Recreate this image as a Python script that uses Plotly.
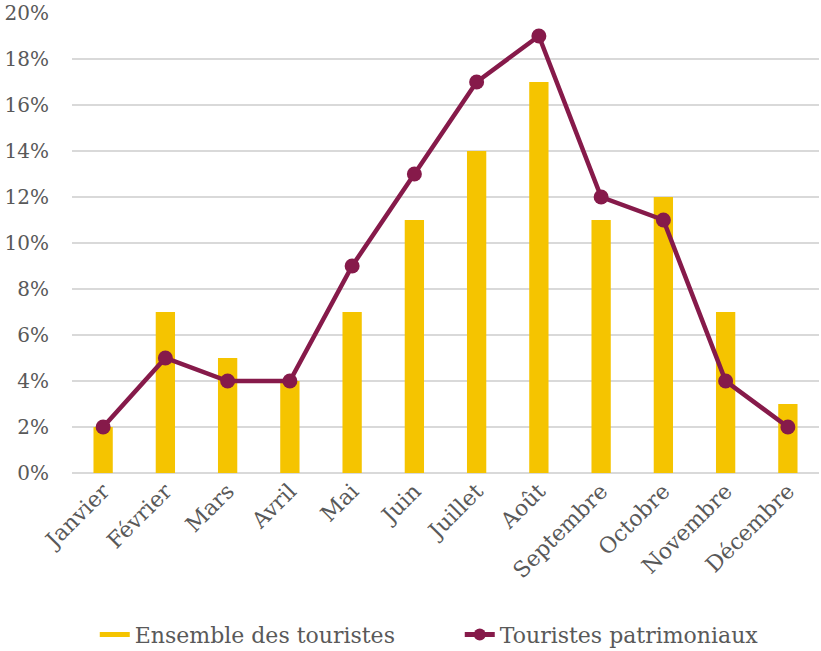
import plotly.graph_objects as go

months = ["Janvier", "Février", "Mars", "Avril", "Mai", "Juin", "Juillet",
          "Août", "Septembre", "Octobre", "Novembre", "Décembre"]
ensemble = [2, 7, 5, 4, 7, 11, 14, 17, 11, 12, 7, 3]
patrimoniaux = [2, 5, 4, 4, 9, 13, 17, 19, 12, 11, 4, 2]
y_ticks = [0, 2, 4, 6, 8, 10, 12, 14, 16, 18, 20]
y_labels = [f"{v}%" for v in y_ticks]

FONT = "DejaVu Serif"
TXT = "#595959"
YELLOW = "#F5C400"
PURPLE = "#861A4A"

fig = go.Figure()
fig.add_trace(go.Bar(x=months, y=ensemble, name="Ensemble des touristes",
                     marker=dict(color=YELLOW, line=dict(width=0)),
                     showlegend=False))
# legend entry drawn as a wide swatch
fig.add_trace(go.Scatter(x=[None], y=[None], name="Ensemble des touristes",
                         mode="lines", line=dict(color=YELLOW, width=15)))
fig.add_trace(go.Scatter(x=months, y=patrimoniaux, name="Touristes patrimoniaux",
                         mode="lines+markers",
                         line=dict(color=PURPLE, width=4.5),
                         marker=dict(color=PURPLE, size=15)))

fig.update_layout(
    width=821, height=651,
    margin=dict(l=72, r=2, t=13, b=178),
    plot_bgcolor="white", paper_bgcolor="white",
    bargap=0.69,
    font=dict(family=FONT, color=TXT, size=19),
    showlegend=True,
    legend=dict(orientation="h", x=0.56, xanchor="center", xref="container",
                y=0.025, yanchor="middle", yref="container",
                font=dict(size=22, color=TXT), entrywidth=320,
                traceorder="normal", itemsizing="constant"),
)
fig.update_xaxes(tickangle=-45, showgrid=False, showline=False, automargin=False,
                 range=[-0.5, len(months) - 0.5],
                 tickfont=dict(size=22, color=TXT), ticks="")
fig.update_yaxes(range=[0, 20], tickvals=y_ticks, ticktext=y_labels,
                 showgrid=True, gridcolor="#D9D9D9", gridwidth=2,
                 zeroline=True, zerolinecolor="#D9D9D9", zerolinewidth=2,
                 showline=False, automargin=False,
                 tickfont=dict(size=20, color=TXT),
                 ticks="", ticklabelstandoff=22)

fig.write_html("out.html", config={"displayModeBar": False},
               post_script="document.body.style.margin='0';")
